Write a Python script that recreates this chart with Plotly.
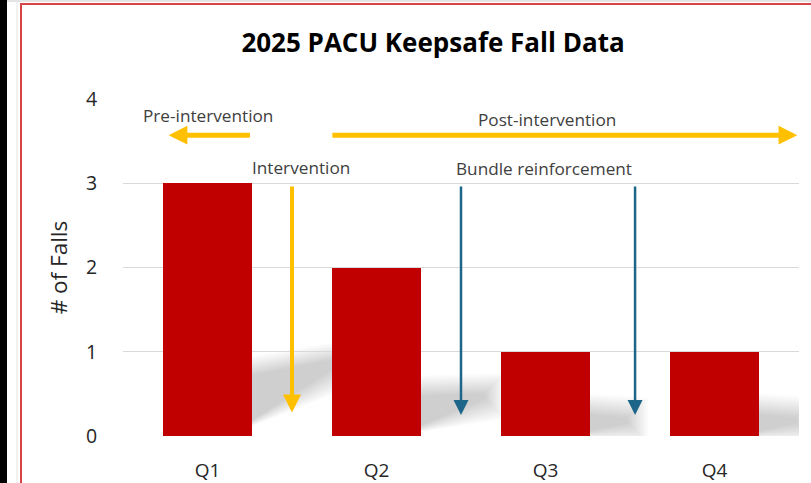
import plotly.graph_objects as go

# ---- data ----
quarters = ["Q1", "Q2", "Q3", "Q4"]
falls = [3, 2, 1, 1]
y_ticks = [0, 1, 2, 3, 4]

title_text = "2025 PACU Keepsafe Fall Data"
y_title = "# of Falls"

W, H = 811, 483
ML, MR, MT, MB = 123, 12, 99, 47
PW, PH = W - ML - MR, H - MT - MB
XR = (-0.5, len(quarters) - 0.5)
YR = (0, 4)
sx = (XR[1] - XR[0]) / PW  # data units per px (x)
sy = (YR[1] - YR[0]) / PH  # data units per px (y)

BAR_W = 0.53
RED = "#C00000"
YEL = "#FFC000"
BLUE = "#1D6689"
TXT = "#404040"
FONT = "Open Sans"

xs = list(range(len(quarters)))

fig = go.Figure()
fig.add_trace(go.Bar(x=xs, y=falls, width=BAR_W, marker=dict(color=RED, line=dict(width=0)),
                     hoverinfo="skip"))

shapes = []
# soft perspective shadows to the right of each bar (expanding faint layers fake a blur)
N = 16
for i, v in enumerate(falls):
    xr = i + BAR_W / 2
    hl = 8 + 16 * v                  # shadow height at bar edge, px
    dx = 12 + 26 * v                 # shadow length, px
    ty = hl * (0.3 + 0.35 * v)       # height of the shadow tip, px
    for k in range(N):
        e = 20 * (1 - k / (N - 1))   # blur spread, px
        q = [(-25, -e), (-25, hl + e), (dx + e, ty + 3 + e), (dx + e, ty - 3 - e)]
        path = "M " + " L ".join(f"{xr + a * sx},{max(b * sy, 0)}" for a, b in q) + " Z"
        shapes.append(dict(type="path", path=path, xref="x", yref="y",
                           fillcolor="rgba(0,0,0,0.0135)", line=dict(width=0),
                           layer="below"))

def px_x(p):
    return (p - ML) / PW

def px_y(p):
    return 1 - (p - MT) / PH

# frame decorations (window edge + red chart border)
shapes += [
    dict(type="rect", xref="paper", yref="paper", x0=px_x(0), x1=px_x(7), y0=px_y(H), y1=px_y(0),
         fillcolor="black", line=dict(width=0), layer="above"),
    dict(type="line", xref="paper", yref="paper", x0=px_x(17), x1=px_x(17), y0=px_y(H), y1=px_y(0),
         line=dict(color="#E4E4E4", width=1)),
    dict(type="line", xref="paper", yref="paper", x0=px_x(7), x1=px_x(W), y0=px_y(1), y1=px_y(1),
         line=dict(color="#E4E4E4", width=2)),
    dict(type="line", xref="paper", yref="paper", x0=px_x(21), x1=px_x(21), y0=px_y(H), y1=px_y(4),
         line=dict(color="#D64545", width=2)),
    dict(type="line", xref="paper", yref="paper", x0=px_x(20), x1=px_x(W), y0=px_y(4), y1=px_y(4),
         line=dict(color="#D64545", width=2)),
]

ann = []
def arrow(x_head, y_head, x_tail, y_tail, color, width, size):
    ann.append(dict(x=x_head, y=y_head, ax=x_tail, ay=y_tail, xref="x", yref="y",
                    axref="x", ayref="y", text="", showarrow=True, arrowhead=2,
                    arrowsize=size, arrowwidth=width, arrowcolor=color, standoff=0,
                    startstandoff=0))

def label(x, y, t):
    ann.append(dict(x=x, y=y, xref="x", yref="y", text=t, showarrow=False,
                    font=dict(family=FONT, size=17.2, color=TXT),
                    xanchor="center", yanchor="middle"))

# horizontal phase arrows
arrow(-0.23, 3.57, 0.26, 3.57, YEL, 5, 0.75)
arrow(3.49, 3.57, 0.73, 3.57, YEL, 5, 0.75)
# vertical event arrows
arrow(0.5, 0.28, 0.5, 2.98, YEL, 4, 0.9)
arrow(1.5, 0.25, 1.5, 2.98, BLUE, 2.5, 1.2)
arrow(2.53, 0.25, 2.53, 2.98, BLUE, 2.5, 1.2)

label(0.003, 3.80, "Pre-intervention")
label(2.01, 3.76, "Post-intervention")
label(0.553, 3.19, "Intervention")
label(1.99, 3.17, "Bundle reinforcement")

fig.update_layout(
    width=W, height=H, autosize=False,
    margin=dict(l=ML, r=MR, t=MT, b=MB, pad=0),
    paper_bgcolor="white", plot_bgcolor="white",
    showlegend=False, bargap=0,
    title=dict(text=f"<b>{title_text}</b>", x=433 / W, xanchor="center", xref="container",
               y=1 - 43 / H, yref="container", yanchor="middle",
               font=dict(family=FONT, size=26, color="black")),
    xaxis=dict(range=list(XR), tickvals=xs, ticktext=quarters, showgrid=False, zeroline=False,
               showline=False, ticks="outside", ticklen=17, tickcolor="rgba(0,0,0,0)",
               automargin=False,
               tickfont=dict(family=FONT, size=19, color="#262626"), fixedrange=True),
    yaxis=dict(range=list(YR), tickvals=y_ticks, showgrid=True, gridcolor="#D9D9D9", gridwidth=1,
               zeroline=False, showline=False, ticks="outside", ticklen=21,
               tickcolor="rgba(0,0,0,0)", automargin=False,
               tickfont=dict(family=FONT, size=19.5, color="#262626"),
               title=dict(text=y_title, standoff=12,
                          font=dict(family=FONT, size=22.5, color="#262626")),
               fixedrange=True),
    shapes=shapes,
    annotations=ann,
)

fig.write_html("out.html", config={"displayModeBar": False},
               post_script="document.body.style.margin='0px';document.body.style.overflow='hidden';")
